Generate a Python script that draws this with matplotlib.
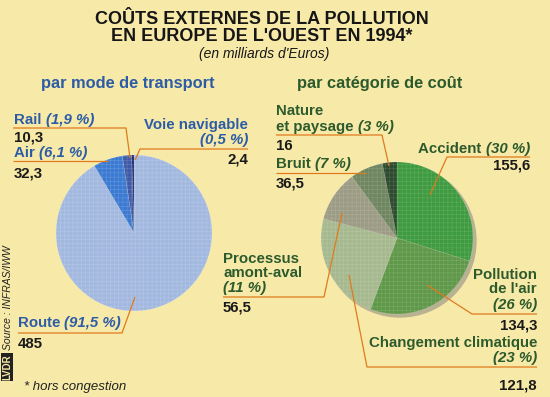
import matplotlib.pyplot as plt
from matplotlib.patches import Circle

plt.rcParams['font.family'] = ['Liberation Sans', 'DejaVu Sans']
plt.rcParams['hatch.linewidth'] = 0.35

W, H = 550, 397
bg = '#f7eaa8'
orange = '#e07a1e'
blue_txt = '#2d5ca6'
green_txt = '#2c5a2c'

# par mode de transport (clockwise from 12 o'clock)
transport_names = ['Route', 'Air', 'Rail', 'Voie navigable']
transport_values = [485, 32.3, 10.3, 2.4]
transport_pct = ['91,5 %', '6,1 %', '1,9 %', '0,5 %']
transport_colors = ['#a2b8df', '#3b7ad2', '#3f5aa6', '#1d2570']

# par catégorie de coût (clockwise from 12 o'clock)
cost_names = ['Accident', "Pollution de l'air", 'Changement climatique',
              'Processus amont-aval', 'Bruit', 'Nature et paysage']
cost_values = [155.6, 134.3, 121.8, 56.5, 36.5, 16]
cost_pct = ['30 %', '26 %', '23 %', '11 %', '7 %', '3 %']
cost_colors = ['#3f9b40', '#5f9849', '#a6b98e', '#9c9b84', '#6f8661', '#2e4b30']


def Y(y):
    return H - y


fig = plt.figure(figsize=(5.5, 3.97), dpi=100)
fig.patch.set_facecolor(bg)
ax = fig.add_axes([0, 0, 1, 1])
ax.set_facecolor(bg)

# pies
ax.pie(transport_values, colors=transport_colors, startangle=90, counterclock=False,
       center=(134, Y(233)), radius=78, frame=True,
       wedgeprops=dict(linewidth=0.4, edgecolor=(1, 1, 1, 0.22), hatch='++++'))
ax.add_patch(Circle((400, Y(241)), 76, color='#b9b292', zorder=0))
ax.pie(cost_values, colors=cost_colors, startangle=90, counterclock=False,
       center=(397, Y(238)), radius=76, frame=True,
       wedgeprops=dict(linewidth=0.4, edgecolor=(1, 1, 1, 0.18), hatch='++++'))

ax.set_xlim(0, W)
ax.set_ylim(0, H)
ax.set_aspect('auto')
ax.axis('off')

fig.canvas.draw()
renderer = fig.canvas.get_renderer()

FS = 10.8


def width_of(t):
    return t.get_window_extent(renderer=renderer).width


def label(x, y, a, b, color, ha='left', size=FS):
    # a: bold name, b: bold italic percentage
    if ha == 'left':
        t1 = ax.text(x, Y(y), a, color=color, fontsize=size, fontweight='bold',
                     ha='left', va='baseline')
        if b:
            ax.text(x + width_of(t1), Y(y), b, color=color, fontsize=size,
                    fontweight='bold', style='italic', ha='left', va='baseline')
    else:
        if b:
            t2 = ax.text(x, Y(y), b, color=color, fontsize=size, fontweight='bold',
                         style='italic', ha='right', va='baseline')
            x = x - width_of(t2)
        ax.text(x, Y(y), a, color=color, fontsize=size, fontweight='bold',
                ha='right', va='baseline')


def value(x, y, s, ha='left'):
    ax.text(x, Y(y), s, color='#1a1a1a', fontsize=FS, fontweight='bold',
            ha=ha, va='baseline')


def leader(pts):
    xs = [p[0] for p in pts]
    ys = [Y(p[1]) for p in pts]
    ax.plot(xs, ys, color=orange, lw=0.9, solid_capstyle='butt', zorder=5)


# titles
ax.text(262, Y(24), "COÛTS EXTERNES DE LA POLLUTION", fontsize=13,
        fontweight='bold', color='#161616', ha='center', va='baseline')
ax.text(262, Y(41), "EN EUROPE DE L'OUEST EN 1994*", fontsize=13,
        fontweight='bold', color='#161616', ha='center', va='baseline')
ax.text(264, Y(58), "(en milliards d'Euros)", fontsize=10, style='italic',
        color='#161616', ha='center', va='baseline')
ax.text(128, Y(88), "par mode de transport", fontsize=11.8, fontweight='bold',
        color=blue_txt, ha='center', va='baseline')
ax.text(380, Y(88), "par catégorie de coût", fontsize=11.8, fontweight='bold',
        color=green_txt, ha='center', va='baseline')

# left chart labels
label(14, 124, 'Rail ', '(' + transport_pct[2] + ')', blue_txt)
leader([(13, 128), (126, 128), (130, 158)])
value(14, 142, '10,3')

label(14, 157, 'Air ', '(' + transport_pct[1] + ')', blue_txt)
leader([(13, 161), (108, 161)])
value(14, 177, '32,3')

label(248, 129, 'Voie navigable', '', blue_txt, ha='right')
label(248, 144, '', '(' + transport_pct[3] + ')', blue_txt, ha='right')
leader([(248, 149), (140, 149), (135, 160)])
value(248, 164, '2,4', ha='right')

label(18, 327, 'Route ', '(' + transport_pct[0] + ')', blue_txt)
leader([(18, 333), (122, 333), (135, 297)])
value(18, 348, '485')

# right chart labels
label(276, 115, 'Nature', '', green_txt)
label(276, 131, 'et paysage ', '(' + cost_pct[5] + ')', green_txt)
leader([(276, 135), (382, 135), (389, 166)])
value(276, 150, '16')

label(276, 168, 'Bruit ', '(' + cost_pct[4] + ')', green_txt)
leader([(276, 173), (366, 173)])
value(276, 188, '36,5')

label(530, 153, 'Accident ', '(' + cost_pct[0] + ')', green_txt, ha='right')
leader([(530, 157), (447, 157), (430, 195)])
value(530, 169, '155,6', ha='right')

label(223, 263, 'Processus', '', green_txt)
label(223, 277, 'amont-aval', '', green_txt)
label(223, 292, '', '(' + cost_pct[3] + ')', green_txt)
leader([(223, 297), (324, 297), (342, 213)])
value(223, 312, '56,5')

label(537, 279, 'Pollution', '', green_txt, ha='right')
label(537, 293, "de l'air", '', green_txt, ha='right')
label(537, 309, '', '(' + cost_pct[1] + ')', green_txt, ha='right')
leader([(537, 314), (472, 314), (427, 285)])
value(537, 330, '134,3', ha='right')

label(537, 347, 'Changement climatique', '', green_txt, ha='right')
label(537, 362, '', '(' + cost_pct[2] + ')', green_txt, ha='right')
leader([(537, 367), (367, 367), (349, 275)])
value(537, 389, '121,8', ha='right')

# source and footnote
ax.text(7, Y(367), "LVDR", fontsize=7, color=bg, fontweight='bold', rotation=90,
        ha='center', va='center',
        bbox=dict(boxstyle='square,pad=0.15', facecolor='#222222', edgecolor='none'))
ax.text(8, Y(350), "Source : INFRAS/IWW", fontsize=7.5, style='italic',
        color='#222222', rotation=90, ha='center', va='bottom')
ax.text(24, Y(390), "* hors congestion", fontsize=9.5, style='italic',
        color='#222222', ha='left', va='baseline')

fig.savefig('out.png', dpi=100, facecolor=bg)
